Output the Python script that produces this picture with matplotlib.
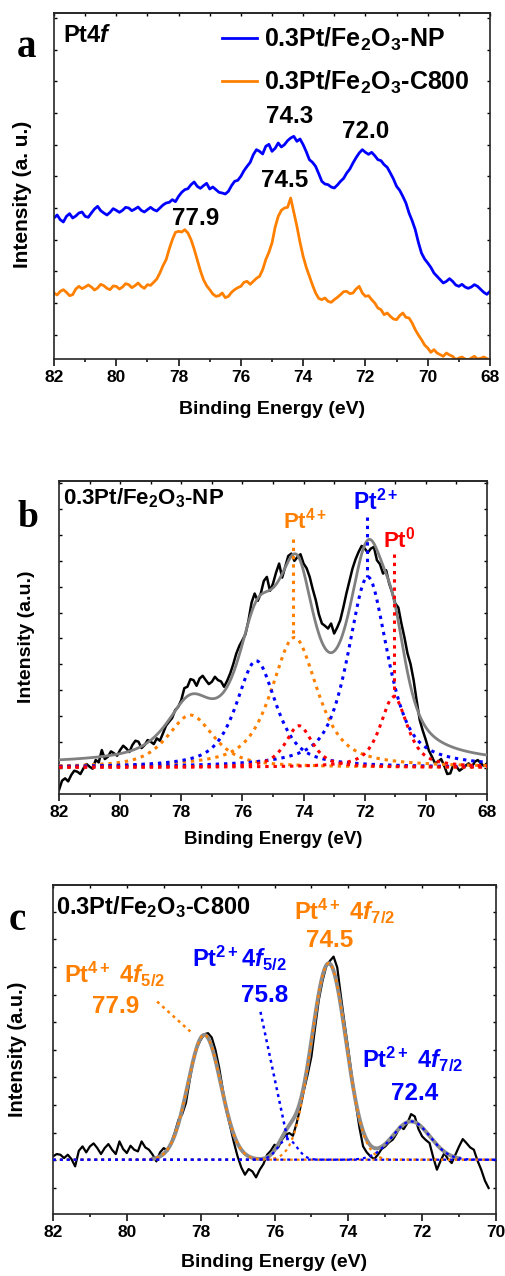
import matplotlib
matplotlib.use("Agg")
import matplotlib.pyplot as plt
import numpy as np
from matplotlib.ticker import MultipleLocator

plt.rcParams.update({
    "font.family": ["Liberation Sans", "DejaVu Sans"],
    "font.weight": "bold",
    "axes.labelweight": "bold",
    "mathtext.fontset": "custom",
    "mathtext.rm": "Liberation Sans:bold",
    "mathtext.it": "Liberation Sans:italic:bold",
    "mathtext.bf": "Liberation Sans:bold",
    "mathtext.default": "rm",
    "axes.linewidth": 1.2,
    "axes.edgecolor": "#262626",
})

BLUE = "#0000FF"
ORANGE = "#FF8000"
RED = "#FF0000"
GRAY = "#808080"

# ---- panel a: raw Pt4f spectra (82 -> 68 eV, 0.1 eV steps) ----
a_np = [423, 432, 418, 411, 428, 436, 423, 429, 438, 441, 428, 425, 438, 450, 458,
        445, 438, 432, 440, 451, 446, 440, 446, 455, 453, 445, 450, 456, 446, 441,
        448, 455, 448, 444, 453, 462, 468, 470, 478, 472, 488, 500, 508, 511, 523,
        531, 518, 512, 520, 527, 510, 516, 508, 500, 498, 495, 503, 520, 533, 536,
        548, 565, 578, 590, 613, 628, 623, 615, 638, 644, 623, 632, 648, 636, 643,
        655, 663, 668, 653, 660, 643, 622, 598, 590, 578, 556, 533, 525, 523, 516,
        513, 522, 533, 542, 558, 570, 588, 604, 618, 628, 620, 614, 620, 610, 598,
        595, 583, 575, 558, 540, 518, 506, 488, 468, 438, 415, 388, 350, 318, 300,
        288, 275, 258, 248, 238, 228, 233, 241, 233, 222, 218, 224, 216, 212, 216,
        223, 218, 209, 200, 194, 203]
a_c800 = [198, 192, 203, 208, 200, 190, 193, 210, 218, 211, 216, 222, 216, 207, 213,
          224, 220, 212, 208, 219, 218, 210, 216, 226, 223, 214, 220, 228, 218, 212,
          223, 221, 230, 240, 258, 280, 298, 330, 358, 380, 383, 381, 388, 378, 358,
          330, 298, 265, 238, 220, 208, 195, 188, 190, 198, 184, 188, 200, 208, 214,
          218, 230, 233, 224, 233, 242, 248, 268, 298, 320, 348, 395, 428, 446, 453,
          455, 483, 440, 398, 350, 308, 275, 248, 222, 198, 182, 178, 183, 173, 170,
          178, 185, 193, 202, 203, 196, 198, 210, 218, 198, 188, 190, 178, 168, 153,
          148, 133, 138, 128, 120, 118, 130, 138, 125, 123, 108, 88, 72, 58, 42,
          33, 20, 28, 18, 13, 8, 18, 12, 8, -2, 3, 6, 0, -3, 3,
          8, 0, 2, 6, 1, -2]
a_peak_labels = ["74.3", "72.0", "74.5", "77.9"]
a_peak_x = [74.45, 71.98, 74.58, 77.44]
a_peak_y = [727, 682, 535, 421]

# ---- panel b: 0.3Pt/Fe2O3-NP with fitted components ----
b_raw = [12, 40, 47, 38, 57, 70, 67, 60, 77, 90, 82, 76, 102, 95, 132,
         105, 112, 128, 122, 115, 132, 145, 137, 126, 147, 160, 157, 138, 147, 162,
         157, 150, 167, 160, 182, 205, 217, 228, 252, 262, 282, 318, 322, 345, 342,
         325, 347, 355, 342, 330, 337, 352, 342, 338, 322, 340, 362, 390, 422, 445,
         462, 480, 522, 575, 602, 580, 602, 640, 652, 610, 632, 665, 692, 650, 682,
         715, 722, 700, 712, 720, 692, 678, 652, 615, 582, 540, 512, 505, 497, 512,
         482, 500, 522, 560, 602, 640, 677, 705, 727, 745, 737, 725, 737, 742, 702,
         690, 662, 672, 632, 605, 572, 560, 512, 470, 422, 390, 342, 280, 222, 190,
         162, 130, 112, 92, 97, 105, 85, 60, 62, 88, 82, 70, 77, 85, 92,
         80, 97, 102, 92, 84, 92]
b_centers = [74.30, 77.70, 71.90, 75.55, 71.05, 74.15]
b_heights = [390, 157, 572, 320, 212, 125]
b_fwhm = [1.8, 1.8, 1.55, 1.55, 1.05, 1.05]
b_colors = [ORANGE, ORANGE, BLUE, BLUE, RED, RED]
b_base = 80
b_env_offset = 8
b_eta = 0.7
b_lead_x = [74.33, 71.93, 71.04]
b_lead_top = [767, 832, 722]
b_lead_bottom = [470, 652, 292]

# ---- panel c: 0.3Pt/Fe2O3-C800 with fitted components (82 -> 70.2 eV) ----
c_raw = [173, 180, 178, 168, 178, 165, 143, 190, 203, 185, 203, 212, 198, 180, 198,
         210, 193, 180, 218, 195, 183, 205, 193, 188, 218, 200, 193, 178, 158, 185,
         198, 190, 213, 245, 283, 300, 333, 400, 463, 500, 523, 540, 543, 530, 493,
         440, 373, 310, 263, 215, 173, 140, 118, 135, 128, 110, 133, 150, 178, 190,
         208, 200, 223, 238, 243, 235, 273, 320, 373, 420, 473, 560, 643, 700, 743,
         760, 773, 740, 653, 570, 493, 410, 333, 260, 203, 185, 173, 165, 178, 195,
         203, 215, 223, 240, 263, 255, 273, 300, 293, 255, 233, 222, 213, 170, 133,
         160, 183, 165, 153, 178, 203, 225, 213, 200, 193, 160, 133, 100, 78]
c_centers = [74.53, 77.90, 72.30, 75.65]
c_heights = [590, 375, 115, 62]
c_fwhm = [1.1, 1.05, 1.2, 0.6]
c_colors = [ORANGE, ORANGE, BLUE, BLUE]
c_base = 163
c_env_range = (79.3, 71.0)
c_lead_x0 = [79.18, 76.38]
c_lead_y0 = [638, 607]
c_lead_x1 = [78.28, 75.65]
c_lead_y1 = [548, 225]
c_lead_colors = [ORANGE, BLUE]


def pvoigt(x, center, height, fwhm, eta):
    d = (x - center) / fwhm
    return height * (eta / (1 + 4 * d ** 2) + (1 - eta) * np.exp(-4 * np.log(2) * d ** 2))


def style_axes(ax, xmin, xmax, ymax, ystep, yoffset):
    ax.set_xlim(xmin, xmax)
    ax.set_ylim(0, ymax)
    ax.xaxis.set_major_locator(MultipleLocator(2))
    ax.xaxis.set_minor_locator(MultipleLocator(1))
    ax.tick_params(axis="x", which="major", direction="out", length=5, width=1.1,
                   labelsize=12.5, pad=3, top=False)
    ax.tick_params(axis="x", which="minor", direction="out", length=2.5, width=1.1, top=False)
    ax.yaxis.set_major_locator(MultipleLocator(ystep, offset=yoffset))
    ax.tick_params(axis="y", which="major", direction="in", length=2.5, width=1.0,
                   left=True, right=True, labelleft=False)
    sec = ax.secondary_xaxis("top")
    sec.xaxis.set_major_locator(MultipleLocator(1))
    sec.tick_params(direction="in", length=2.5, width=1.0, labeltop=False)
    sec.spines["top"].set_linewidth(1.2)


fig = plt.figure(figsize=(5.06, 12.76), dpi=100)

# ---------------- panel a ----------------
ax = fig.add_axes([54 / 506, 1 - 359 / 1276, 436 / 506, 346 / 1276])
be_a = np.linspace(82, 68, len(a_np))
ax.plot(be_a, a_np, color=BLUE, lw=2, label="0.3Pt/Fe$_2$O$_3$-NP")
ax.plot(np.linspace(82, 68, len(a_c800)), a_c800, color=ORANGE, lw=2,
        label="0.3Pt/Fe$_2$O$_3$-C800")
style_axes(ax, 82, 68, 1038, 95, 73)
for txt, x, y in zip(a_peak_labels, a_peak_x, a_peak_y):
    ax.text(x, y, txt, fontsize=17.5, ha="center", va="center")
ax.text(0.021, 0.936, r"Pt4$\mathit{f}$", transform=ax.transAxes, fontsize=17,
        ha="left", va="center")
ax.legend(loc="upper left", bbox_to_anchor=(0.385, 0.963), frameon=False,
          fontsize=18, handlelength=1.4, handletextpad=0.3, labelspacing=0.62,
          borderpad=0, borderaxespad=0)
ax.set_xlabel("Binding Energy (eV)", fontsize=14)
ax.set_ylabel("Intensity (a. u.)", fontsize=15)
ax.xaxis.set_label_coords(0.5, -0.121)
ax.yaxis.set_label_coords(-0.05, 0.477)

# ---------------- panel b ----------------
ax = fig.add_axes([59 / 506, 1 - 794 / 1276, 428 / 506, 313 / 1276])
be_b = np.linspace(82, 68, len(b_raw))
grid_b = np.linspace(82, 68, 600)
ax.plot(be_b, b_raw, color="black", lw=1.8, zorder=2)
comps = [pvoigt(grid_b, c, h, w, b_eta) for c, h, w in zip(b_centers, b_heights, b_fwhm)]
ax.plot(grid_b, b_base + b_env_offset + np.sum(comps, axis=0), color=GRAY, lw=2, zorder=3)
for comp, col in zip(comps, b_colors):
    ax.plot(grid_b, b_base + comp, color=col, lw=2.2, ls=(0, (1.1, 1.6)), zorder=4)
for x, y0, y1, col in zip(b_lead_x, b_lead_top, b_lead_bottom, [ORANGE, BLUE, RED]):
    ax.plot([x, x], [y0, y1], color=col, lw=2.2, ls=(0, (1.1, 1.6)), zorder=4)
style_axes(ax, 82, 68, 940, 78, 77)
ax.text(0.009, 0.9265, "0.3Pt/Fe$_2$O$_3$-NP", transform=ax.transAxes, fontsize=16,
        ha="left", va="baseline")
ax.text(74.68, 797, "Pt$^{4+}$", color=ORANGE, fontsize=16, ha="left", va="baseline")
ax.text(72.39, 852, "Pt$^{2+}$", color=BLUE, fontsize=16.5, ha="left", va="baseline")
ax.text(71.39, 740, "Pt$^{0}$", color=RED, fontsize=16, ha="left", va="baseline")
ax.set_xlabel("Binding Energy (eV)", fontsize=13.5)
ax.set_ylabel("Intensity (a.u.)", fontsize=14)
ax.xaxis.set_label_coords(0.5, -0.118)
ax.yaxis.set_label_coords(-0.056, 0.503)

# ---------------- panel c ----------------
ax = fig.add_axes([53 / 506, 1 - 1214 / 1276, 443 / 506, 329 / 1276])
be_c = np.linspace(82, 70.2, len(c_raw))
grid_c = np.linspace(82, 70, 600)
ax.plot(be_c, c_raw, color="black", lw=1.6, zorder=2)
comps = [pvoigt(grid_c, c, h, w, 0.0) for c, h, w in zip(c_centers, c_heights, c_fwhm)]
env_mask = (grid_c <= c_env_range[0]) & (grid_c >= c_env_range[1])
env = c_base + np.sum(comps, axis=0)
ax.plot(grid_c[env_mask], env[env_mask], color="#8c8c8c", lw=2.8, zorder=3)
for comp, col in zip(comps, c_colors):
    ax.plot(grid_c, c_base + comp, color=col, lw=1.6, ls=(0, (1.3, 1.8)), zorder=4)
for x0, y0, x1, y1, col in zip(c_lead_x0, c_lead_y0, c_lead_x1, c_lead_y1, c_lead_colors):
    ax.plot([x0, x1], [y0, y1], color=col, lw=1.8, ls=(0, (1.2, 1.6)), zorder=4)
style_axes(ax, 82, 70, 988, 83, 78)
ax.text(0.007, 0.912, "0.3Pt/Fe$_2$O$_3$-C800", transform=ax.transAxes, fontsize=17,
        ha="left", va="baseline")
ax.text(75.48, 883, r"Pt$^{4+}$ 4$\mathit{f}_{7/2}$", color=ORANGE, fontsize=17,
        ha="left", va="baseline")
ax.text(74.50, 803, "74.5", color=ORANGE, fontsize=17.5, ha="center", va="baseline")
ax.text(78.23, 743, r"Pt$^{2+}$4$\mathit{f}_{5/2}$", color=BLUE, fontsize=17,
        ha="left", va="baseline")
ax.text(76.28, 636, "75.8", color=BLUE, fontsize=17.5, ha="center", va="baseline")
ax.text(81.71, 693, r"Pt$^{4+}$ 4$\mathit{f}_{5/2}$", color=ORANGE, fontsize=17,
        ha="left", va="baseline")
ax.text(80.30, 603, "77.9", color=ORANGE, fontsize=17.5, ha="center", va="baseline")
ax.text(73.63, 438, r"Pt$^{2+}$ 4$\mathit{f}_{7/2}$", color=BLUE, fontsize=17,
        ha="left", va="baseline")
ax.text(72.21, 343, "72.4", color=BLUE, fontsize=17.5, ha="center", va="baseline")
ax.set_xlabel("Binding Energy (eV)", fontsize=14)
ax.set_ylabel("Intensity (a.u.)", fontsize=14.3)
ax.xaxis.set_label_coords(0.5, -0.122)
ax.yaxis.set_label_coords(-0.058, 0.50)

# panel letters
for letter, x, y, size in [("a", 27, 57, 28), ("b", 28, 527, 27), ("c", 17, 930, 28)]:
    fig.text(x / 506, 1 - y / 1276, letter, family="Liberation Serif", fontweight="bold",
             fontsize=size, ha="center", va="baseline")

fig.savefig("out.png", dpi=100)
